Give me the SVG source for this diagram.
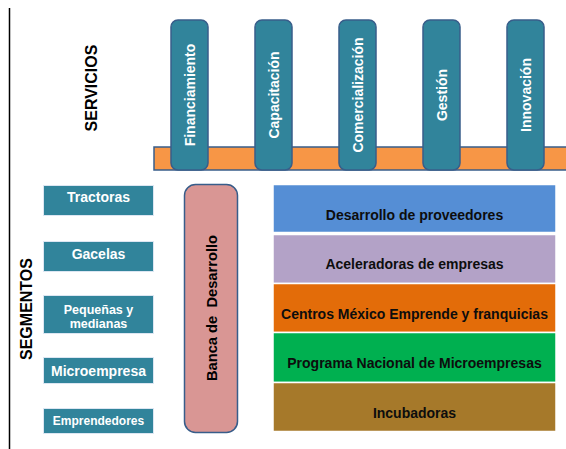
<svg xmlns="http://www.w3.org/2000/svg" width="566" height="449" viewBox="0 0 566 449">
<style>
text{font-family:"Liberation Sans",Arial,sans-serif;font-weight:bold;text-anchor:middle}
.pill{fill:#31849B;stroke:#385D8A;stroke-width:1.5}
.pt{fill:#fff;font-size:14px}
.seg{fill:#31849B;stroke:#DCE6F2;stroke-width:1}
.st{fill:#fff}
.row{stroke:#fff;stroke-width:1.5}
.rt{fill:#0D0D0D;font-size:14px}
.title{fill:#000;font-size:16px}
</style>
<rect width="566" height="449" fill="#fff"/>
<line x1="9.5" y1="8" x2="9.5" y2="449" stroke="#000" stroke-width="1.5"/>
<g id="servicios-title"><text class="title" transform="translate(97,88) rotate(-90)">SERVICIOS</text></g>
<g id="segmentos-title"><text class="title" transform="translate(32,309) rotate(-90)">SEGMENTOS</text></g>
<g id="bar"><rect x="154" y="147" width="414" height="23" fill="#F79646" stroke="#385D8A" stroke-width="1.5"/></g>
<g id="financiamiento"><rect class="pill" x="171" y="20" width="37" height="150" rx="7"/><text class="pt" transform="translate(194.5,95) rotate(-90)">Financiamiento</text></g>
<g id="capacitacion"><rect class="pill" x="255" y="20" width="37" height="150" rx="7"/><text class="pt" transform="translate(278.5,95) rotate(-90)">Capacitación</text></g>
<g id="comercializacion"><rect class="pill" x="339" y="20" width="37" height="150" rx="7"/><text class="pt" transform="translate(362.5,95) rotate(-90)">Comercialización</text></g>
<g id="gestion"><rect class="pill" x="423" y="20" width="37" height="150" rx="7"/><text class="pt" transform="translate(446.5,95) rotate(-90)">Gestión</text></g>
<g id="innovacion"><rect class="pill" x="507" y="20" width="37" height="150" rx="7"/><text class="pt" transform="translate(530.5,95) rotate(-90)">Innovación</text></g>
<g id="tractoras"><rect class="seg" x="43.5" y="185.5" width="110" height="30"/><text class="st" x="98.5" y="202" font-size="14">Tractoras</text></g>
<g id="gacelas"><rect class="seg" x="43.5" y="241.5" width="110" height="30"/><text class="st" x="98.5" y="259" font-size="14">Gacelas</text></g>
<g id="pequenas"><rect class="seg" x="43.5" y="295.5" width="110" height="38"/><text class="st" x="98.5" y="314" font-size="12.5">Pequeñas y</text><text class="st" x="98.5" y="327.5" font-size="12.5">medianas</text></g>
<g id="microempresa"><rect class="seg" x="43.5" y="357.5" width="110" height="26"/><text class="st" x="98.5" y="376" font-size="14">Microempresa</text></g>
<g id="emprendedores"><rect class="seg" x="43.5" y="408.5" width="110" height="25"/><text class="st" x="98.5" y="425" font-size="12">Emprendedores</text></g>
<g id="banca"><rect x="184.5" y="184.5" width="53" height="248" rx="11" fill="#D99694" stroke="#385D8A" stroke-width="1.5"/><text fill="#000" font-size="14.7" transform="translate(216.5,308) rotate(-90)" xml:space="preserve">Banca de  Desarrollo</text></g>
<g id="desarrollo"><rect class="row" x="273" y="184.5" width="283" height="48" fill="#558ED5"/><text class="rt" x="414.5" y="219.5">Desarrollo de proveedores</text></g>
<g id="aceleradoras"><rect class="row" x="273" y="234.5" width="283" height="49" fill="#B3A2C7"/><text class="rt" x="414.5" y="269">Aceleradoras de empresas</text></g>
<g id="centros"><rect class="row" x="273" y="283.5" width="283" height="49" fill="#E36C09"/><text class="rt" x="414.5" y="318.5">Centros México Emprende y franquicias</text></g>
<g id="programa"><rect class="row" x="273" y="332.5" width="283" height="50" fill="#00B050"/><text class="rt" x="414.5" y="368">Programa Nacional de Microempresas</text></g>
<g id="incubadoras"><rect class="row" x="273" y="382.5" width="283" height="49" fill="#A6792A"/><text class="rt" x="414.5" y="417.5">Incubadoras</text></g>
</svg>
